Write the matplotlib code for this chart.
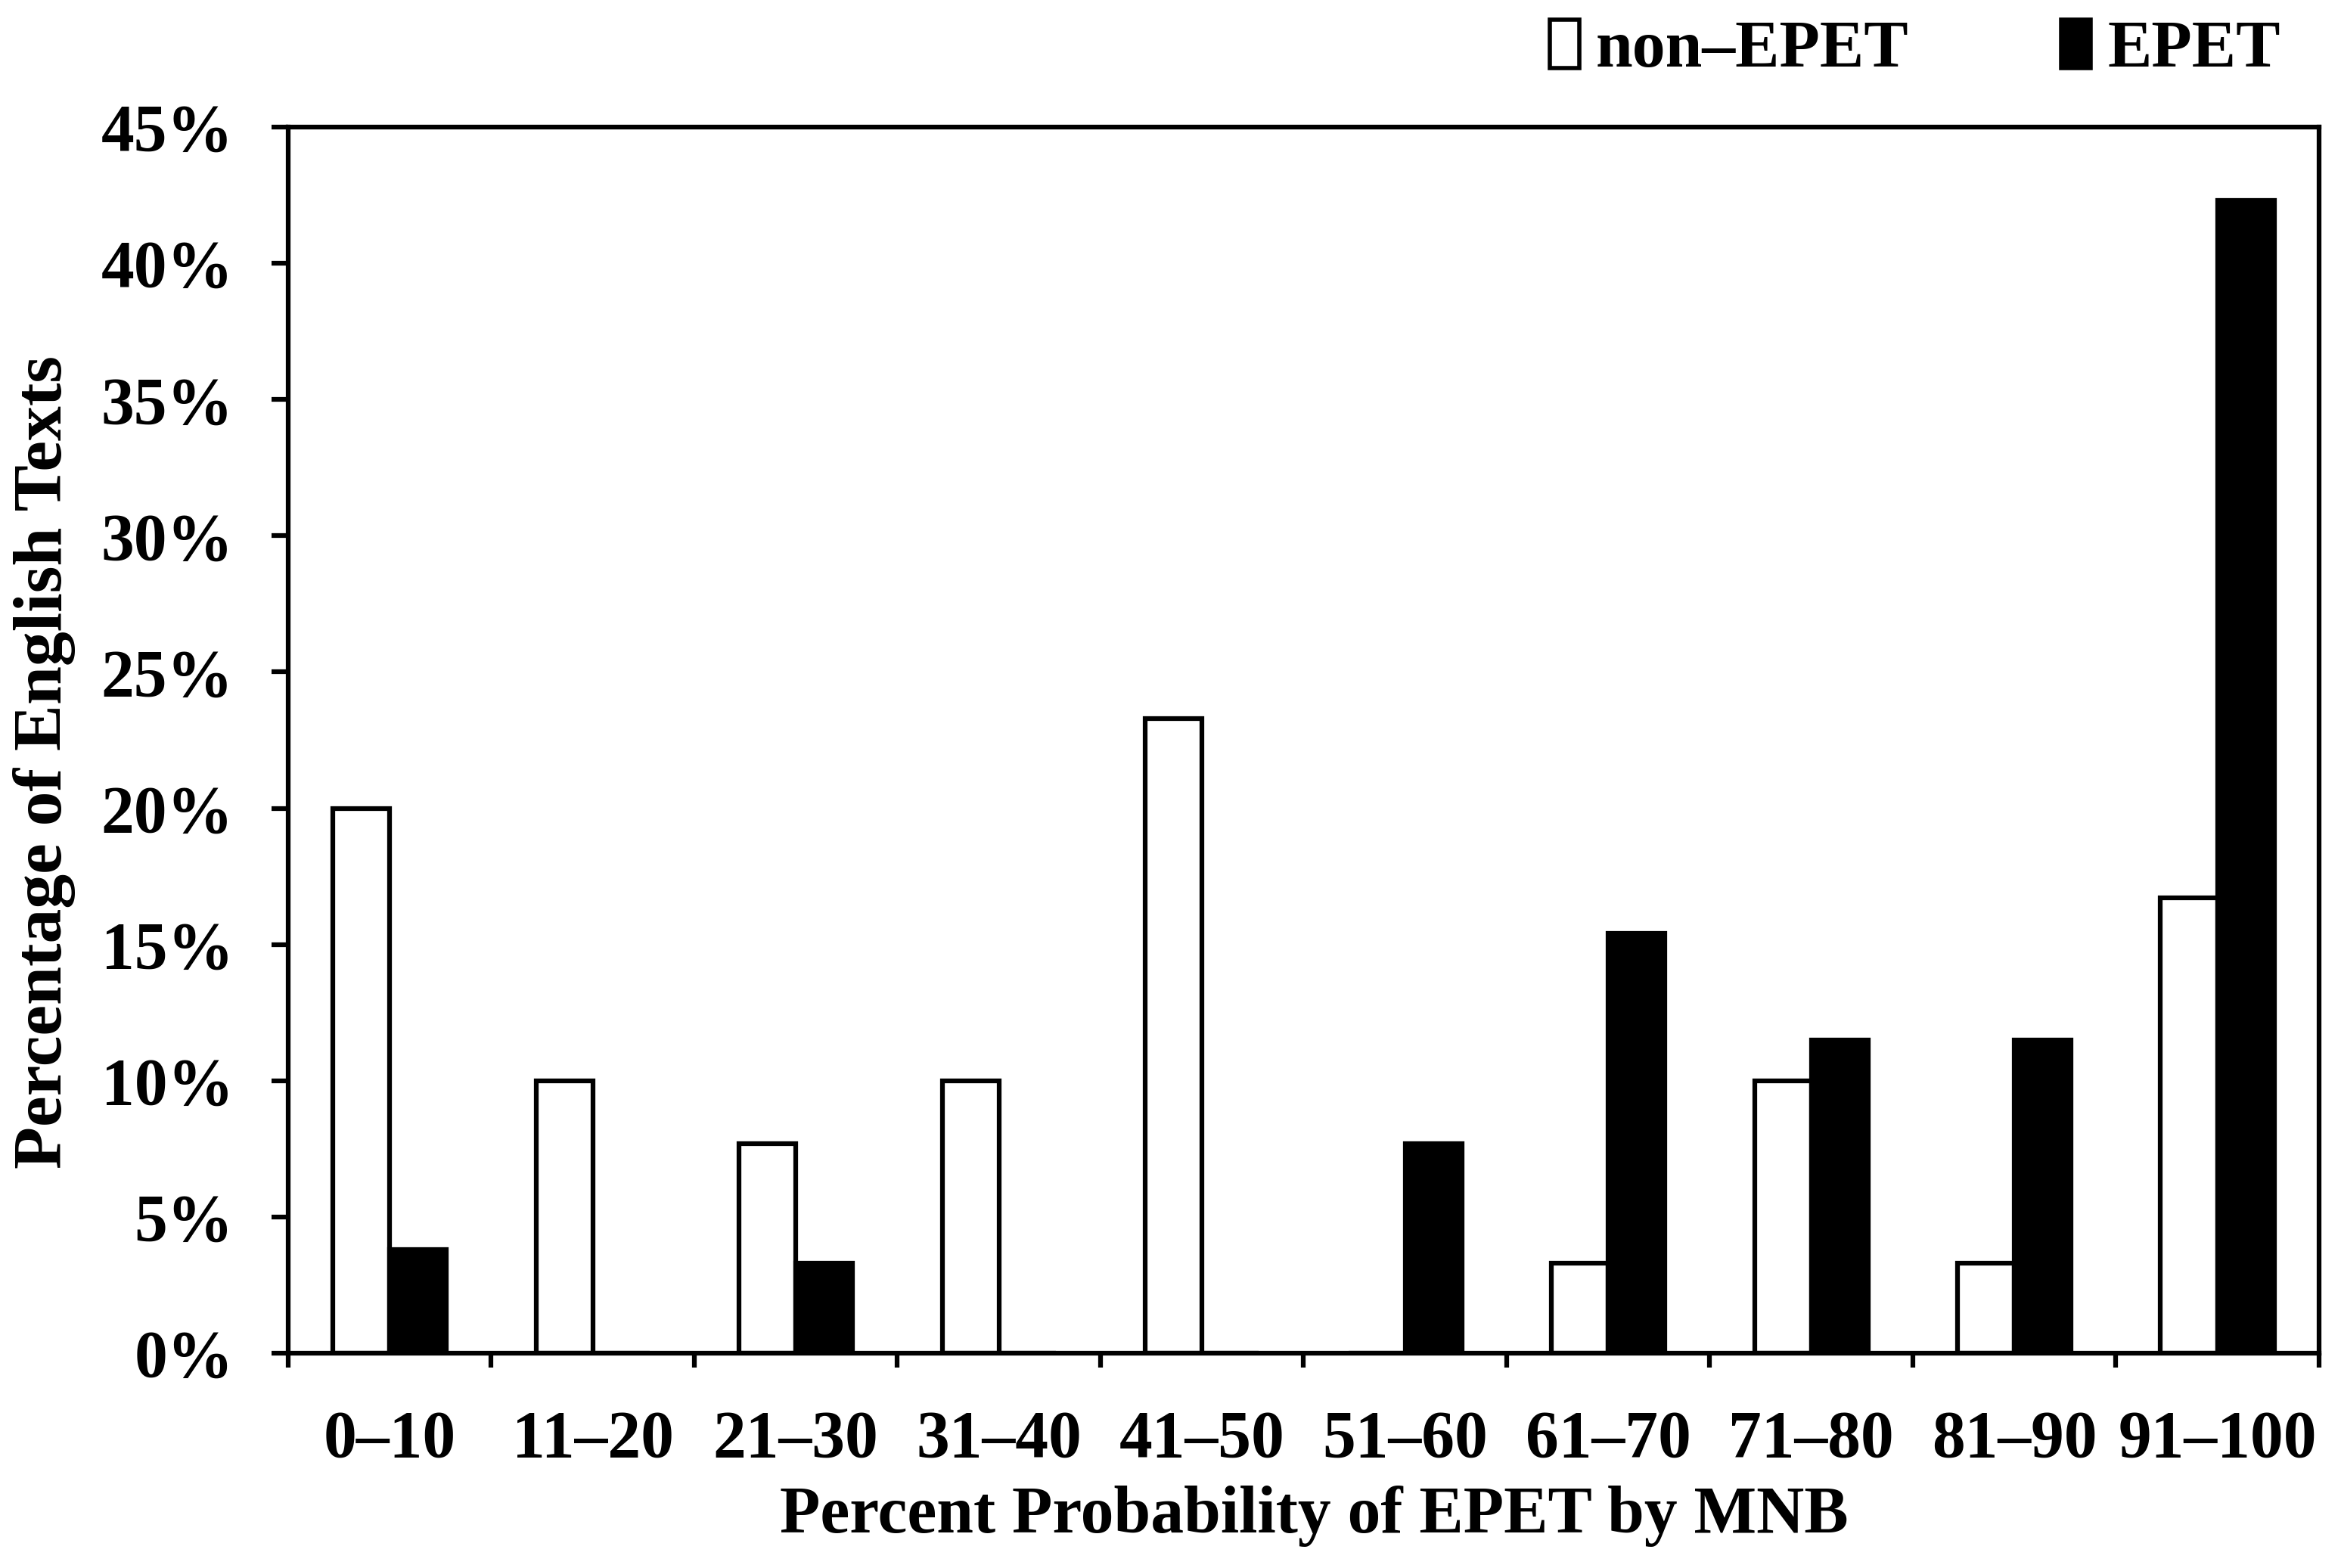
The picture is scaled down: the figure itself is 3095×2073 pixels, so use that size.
import matplotlib
matplotlib.use("Agg")
import matplotlib.pyplot as plt
from matplotlib.patches import Patch
import numpy as np

categories = ["0\u201310", "11\u201320", "21\u201330", "31\u201340", "41\u201350",
              "51\u201360", "61\u201370", "71\u201380", "81\u201390", "91\u2013100"]
non_epet = [20.0, 10.0, 7.7, 10.0, 23.3, 0.0, 3.3, 10.0, 3.3, 16.7]
epet = [3.8, 0.0, 3.3, 0.0, 0.0, 7.7, 15.4, 11.5, 11.5, 42.3]
yticks = [0, 5, 10, 15, 20, 25, 30, 35, 40, 45]

plt.rcParams['font.family'] = ['Liberation Serif', 'DejaVu Serif']
plt.rcParams['font.weight'] = 'bold'

fig = plt.figure(figsize=(30.95, 20.73), dpi=100)
ax = fig.add_axes([0.1231, 0.137, 0.8675, 0.782])

x = np.arange(len(categories))
w = 0.28
lw = 4.5
ax.bar(x - w/2, non_epet, w, facecolor='white', edgecolor='black', linewidth=lw, label='non\u2013EPET')
ax.bar(x + w/2, epet, w, facecolor='black', edgecolor='black', linewidth=lw, label='EPET')

ax.set_xlim(-0.5, len(categories) - 0.5)
ax.set_ylim(0, 45)
ax.set_yticks(yticks)
ax.set_yticklabels([f"{v}%" for v in yticks])
ax.set_xticks(np.arange(-0.5, len(categories), 1.0))
ax.set_xticklabels([])
ax.set_xticks(x, minor=True)
ax.set_xticklabels(categories, minor=True)
ax.tick_params(axis='x', which='major', direction='out', length=14, width=lw)
ax.tick_params(axis='x', which='minor', length=0, pad=54, labelsize=63)
ax.tick_params(axis='y', direction='out', length=16, width=lw, pad=36, labelsize=63)
for s in ax.spines.values():
    s.set_linewidth(lw)

ax.set_xlabel("Percent Probability of EPET by MNB", fontsize=63, fontweight='bold', labelpad=14)
ax.set_ylabel("Percentage of English Texts", fontsize=66, fontweight='bold', labelpad=24)
ax.xaxis.label.set_x(0.505)
ax.yaxis.label.set_y(0.482)

handles = [Patch(facecolor='white', edgecolor='black', linewidth=4),
           Patch(facecolor='black', edgecolor='black', linewidth=4)]
fig.legend(handles, ['non\u2013EPET', 'EPET'], loc='center', bbox_to_anchor=(0.818, 0.968),
           ncol=2, frameon=False, fontsize=63, handlelength=0.45, handleheight=0.75,
           handletextpad=0.25, columnspacing=2.3)

fig.savefig("out.png", dpi=100)
